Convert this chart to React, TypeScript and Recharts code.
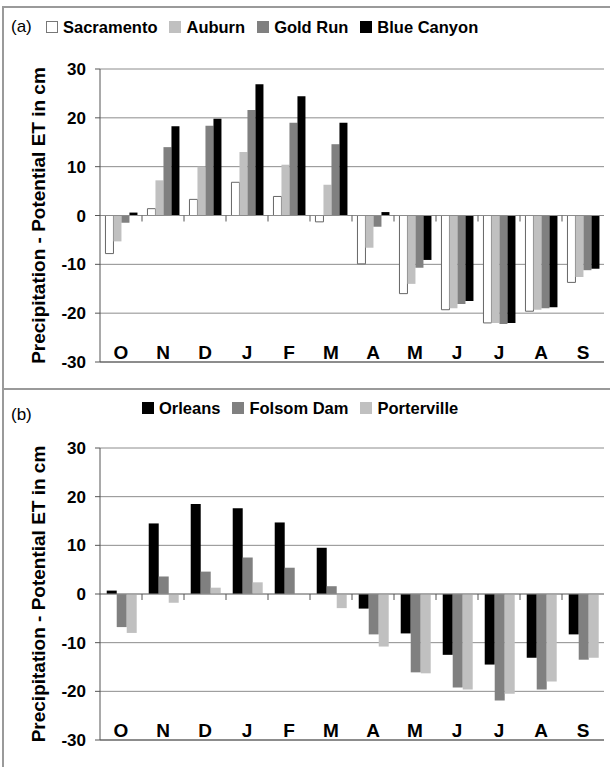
import React from 'react';
import { BarChart, Bar, XAxis, YAxis, CartesianGrid, ReferenceLine, Legend } from 'recharts';

const months = ['O', 'N', 'D', 'J', 'F', 'M', 'A', 'M', 'J', 'J', 'A', 'S'];
const yTicks = [-30, -20, -10, 0, 10, 20, 30];

// panel (a)
const sacramento = [-7.8, 1.4, 3.3, 6.8, 3.9, -1.3, -9.9, -16.0, -19.3, -22.0, -19.6, -13.7];
const auburn = [-5.3, 7.2, 10.0, 13.0, 10.4, 6.3, -6.6, -14.0, -19.0, -22.0, -19.3, -12.6];
const goldRun = [-1.5, 14.0, 18.4, 21.6, 19.0, 14.6, -2.3, -10.7, -18.1, -22.2, -19.0, -11.2];
const blueCanyon = [0.6, 18.3, 19.8, 26.9, 24.4, 19.0, 0.7, -9.1, -17.5, -22.0, -18.8, -10.9];

// panel (b)
const orleans = [0.7, 14.5, 18.5, 17.6, 14.7, 9.5, -3.0, -8.1, -12.5, -14.5, -13.1, -8.3];
const folsomDam = [-6.8, 3.6, 4.6, 7.5, 5.4, 1.6, -8.3, -16.1, -19.2, -21.9, -19.6, -13.5];
const porterville = [-8.0, -1.8, 1.3, 2.4, 0, -2.9, -10.8, -16.3, -19.6, -20.5, -18.0, -13.1];

interface Series {
  key: string;
  name: string;
  values: number[];
  fill: string;
  stroke: string;
}

const topSeries: Series[] = [
  { key: 'sacramento', name: 'Sacramento', values: sacramento, fill: '#ffffff', stroke: '#666666' },
  { key: 'auburn', name: 'Auburn', values: auburn, fill: '#c0c0c0', stroke: '#c0c0c0' },
  { key: 'goldRun', name: 'Gold Run', values: goldRun, fill: '#808080', stroke: '#808080' },
  { key: 'blueCanyon', name: 'Blue Canyon', values: blueCanyon, fill: '#000000', stroke: '#000000' },
];

const bottomSeries: Series[] = [
  { key: 'orleans', name: 'Orleans', values: orleans, fill: '#000000', stroke: '#000000' },
  { key: 'folsomDam', name: 'Folsom Dam', values: folsomDam, fill: '#808080', stroke: '#808080' },
  { key: 'porterville', name: 'Porterville', values: porterville, fill: '#c0c0c0', stroke: '#c0c0c0' },
];

const FONT = '"Liberation Sans", Arial, sans-serif';
const GRID = '#8c8c8c';
const AXIS = '#555555';

const buildRows = (series: Series[]) =>
  months.map((m, i) => {
    const row: Record<string, string | number> = { month: m };
    series.forEach((s) => {
      row[s.key] = s.values[i];
    });
    return row;
  });

const renderMonthTick = (props: any) => {
  const { x, y, payload } = props;
  return (
    <text x={x} y={y - 3} textAnchor="middle" fontSize={19} fontWeight={700} fill="#000">
      {payload.value}
    </text>
  );
};

// zero line plus the little ticks at the month boundaries
const renderZeroLine = (props: any) => {
  const { x1, y1, x2 } = props;
  const step = (x2 - x1) / months.length;
  return (
    <g>
      <line x1={x1} y1={y1} x2={x2} y2={y1} stroke={GRID} strokeWidth={1} />
      {months.slice(1).map((_, i) => (
        <line
          key={i}
          x1={x1 + (i + 1) * step}
          x2={x1 + (i + 1) * step}
          y1={y1}
          y2={y1 + 6}
          stroke={AXIS}
          strokeWidth={1}
        />
      ))}
    </g>
  );
};

const renderYLabel = (props: any) => {
  const vb = props.viewBox;
  const cx = vb.x + 38;
  const cy = vb.y + vb.height / 2;
  return (
    <text
      x={cx}
      y={cy}
      dy="0.35em"
      textAnchor="middle"
      transform={`rotate(-90, ${cx}, ${cy})`}
      fontSize={19}
      fontWeight={700}
      fill="#000"
    >
      Precipitation - Potential ET in cm
    </text>
  );
};

interface PanelProps {
  tag: string;
  series: Series[];
  height: number;
  marginTop: number;
  marginBottom: number;
  gap: string;
  legendTop: number;
  tagTop: number;
  itemsLeft: number;
}

function Panel({ tag, series, height, marginTop, marginBottom, gap, legendTop, tagTop, itemsLeft }: PanelProps) {
  const rows = buildRows(series);
  const legendContent = () => (
    <div style={{ position: 'relative', width: 610, height: 22, fontFamily: FONT, color: '#000' }}>
      <span style={{ position: 'absolute', left: 11, top: tagTop, fontSize: 17, lineHeight: '20px' }}>{tag}</span>
      <div style={{ position: 'absolute', left: itemsLeft, top: 0, display: 'flex', alignItems: 'center', gap: 12, height: 20 }}>
        {series.map((s) => (
          <div key={s.key} style={{ display: 'flex', alignItems: 'center', gap: 5 }}>
            <span
              style={{
                display: 'inline-block',
                width: 10,
                height: 10,
                background: s.fill,
                border: `1px solid ${s.fill === '#ffffff' ? '#777' : s.fill}`,
              }}
            />
            <span style={{ fontSize: 16.5, fontWeight: 700, lineHeight: '20px' }}>{s.name}</span>
          </div>
        ))}
      </div>
    </div>
  );

  return (
    <BarChart
      width={610}
      height={height}
      data={rows}
      margin={{ top: marginTop, right: 6, bottom: marginBottom, left: 0 }}
      barGap={0}
      barCategoryGap={gap}
    >
      <CartesianGrid vertical={false} stroke={GRID} />
      <XAxis
        dataKey="month"
        height={1}
        tickSize={0}
        tickMargin={0}
        interval={0}
        axisLine={{ stroke: AXIS }}
        tickLine={false}
        tick={renderMonthTick}
      />
      <YAxis
        domain={[-30, 30]}
        ticks={yTicks}
        interval={0}
        width={100}
        tickSize={5}
        tickMargin={9}
        axisLine={{ stroke: AXIS }}
        tickLine={{ stroke: AXIS }}
        tick={{ fill: '#000', fontSize: 17, fontWeight: 700 }}
        label={renderYLabel}
      />
      <YAxis
        yAxisId="frame"
        orientation="right"
        domain={[-30, 30]}
        width={0}
        tick={false}
        tickLine={false}
        axisLine={{ stroke: GRID }}
      />
      {series.map((s) => (
        <Bar
          key={s.key}
          dataKey={s.key}
          name={s.name}
          fill={s.fill}
          stroke={s.stroke}
          strokeWidth={s.fill === '#ffffff' ? 1 : 0}
          isAnimationActive={false}
        />
      ))}
      <ReferenceLine y={0} shape={renderZeroLine} />
      <Legend
        verticalAlign="middle"
        align="center"
        content={legendContent}
        wrapperStyle={{ top: legendTop, left: 0, width: 610, height: 22 }}
      />
    </BarChart>
  );
}

export default function App() {
  const line = '2px solid #9a9a9a';
  return (
    <div
      style={{
        position: 'absolute',
        left: 0,
        top: 0,
        width: 610,
        height: 767,
        background: '#fff',
        fontFamily: FONT,
        overflow: 'hidden',
      }}
    >
      <div style={{ position: 'absolute', left: 2, top: 6, width: 620, height: 380, borderTop: line, borderLeft: line, borderBottom: line }} />
      <div style={{ position: 'absolute', left: 2, top: 388, width: 620, height: 400, borderLeft: line }} />
      <div style={{ position: 'absolute', left: 0, top: 0 }}>
        <Panel
          tag="(a)"
          series={topSeries}
          height={387}
          marginTop={69}
          marginBottom={24}
          gap="13%"
          legendTop={17}
          tagTop={0}
          itemsLeft={46}
        />
      </div>
      <div style={{ position: 'absolute', left: 0, top: 387 }}>
        <Panel
          tag="(b)"
          series={bottomSeries}
          height={380}
          marginTop={61}
          marginBottom={26}
          gap="16%"
          legendTop={11}
          tagTop={7}
          itemsLeft={142}
        />
      </div>
    </div>
  );
}
